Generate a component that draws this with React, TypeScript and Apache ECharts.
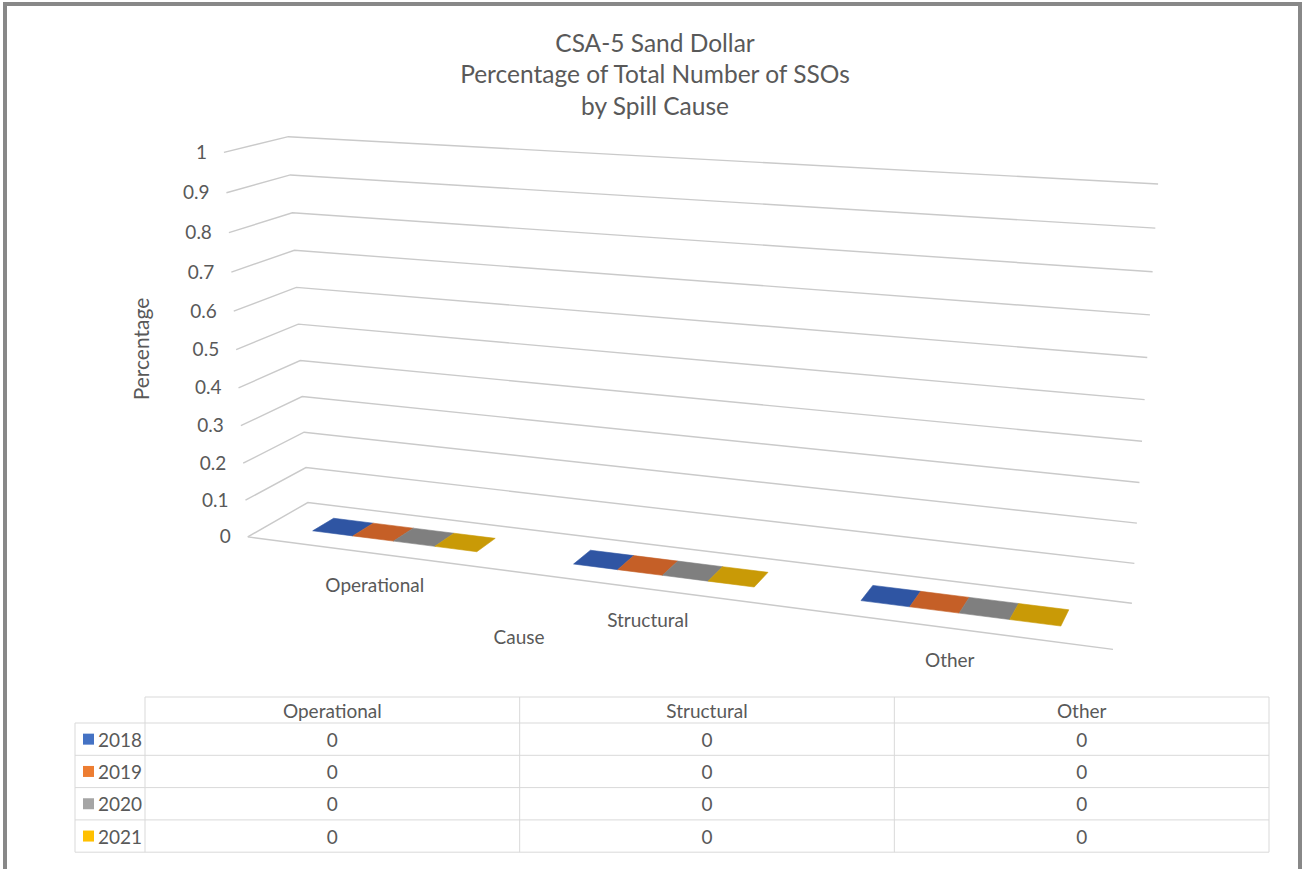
import React, { useEffect, useRef } from "react";
import * as echarts from "echarts";

// ---------------- data ----------------
const titleLines = ["CSA-5 Sand Dollar", "Percentage of Total Number of SSOs", "by Spill Cause"];
const categories = ["Operational", "Structural", "Other"];
const years = ["2018", "2019", "2020", "2021"];
const values2018 = [0, 0, 0];
const values2019 = [0, 0, 0];
const values2020 = [0, 0, 0];
const values2021 = [0, 0, 0];
const yearValues = [values2018, values2019, values2020, values2021];
const yTicks = [0, 0.1, 0.2, 0.3, 0.4, 0.5, 0.6, 0.7, 0.8, 0.9, 1];
const yAxisTitle = "Percentage";
const xAxisTitle = "Cause";

// ---------------- styles ----------------
const legendColors = ["#4472C4", "#ED7D31", "#A5A5A5", "#FFC000"];
const barTopColors = ["#2F55A3", "#C55F27", "#7F7F7F", "#C99A06"];
const barSideColors = ["#2A4C8E", "#B0541F", "#707070", "#B38904"];
const TEXT = "#595959";
const GRID = "#CACACA";
const TABLE_LINE = "#D9D9D9";
const FONT = "Lato, 'Open Sans', sans-serif";
const LABEL_SIZE = 19;
const TITLE_SIZE = 24.5;
const AXIS_TITLE_SIZE = 21;

// 3D box calibration: (u along categories, d depth front->back, v value) -> screen px
const BOX_REF: number[][] = [
  [0, 0, 0, 247.5, 536.5],
  [1, 0, 0, 1113.3, 649.3],
  [1, 1, 0, 1131.7, 603.3],
  [0, 1, 0, 307.5, 503],
  [0, 0, 1, 221.7, 153.3],
  [0, 1, 1, 290, 136],
  [1, 1, 1, 1158, 184],
  [0, 0, 0.5, 238.3, 349.3],
  [0, 1, 0.5, 297.3, 324.3],
];
const DEPTH_FRONT = 0.33;
const DEPTH_BACK = 0.69;
const GROUP_FRAC = 0.64;

function solveProjection(refs: number[][]) {
  const S = 1000;
  const n = 11;
  const M: number[][] = Array.from({ length: n }, () => new Array(n + 1).fill(0));
  const addRow = (row: number[], rhs: number) => {
    for (let i = 0; i < n; i++) {
      for (let j = 0; j < n; j++) M[i][j] += row[i] * row[j];
      M[i][n] += row[i] * rhs;
    }
  };
  for (const [u, d, v, X, Y] of refs) {
    const x = X / S, y = Y / S;
    addRow([u, d, v, 1, 0, 0, 0, 0, -x * u, -x * d, -x * v], x);
    addRow([0, 0, 0, 0, u, d, v, 1, -y * u, -y * d, -y * v], y);
  }
  for (let c = 0; c < n; c++) {
    let p = c;
    for (let r = c + 1; r < n; r++) if (Math.abs(M[r][c]) > Math.abs(M[p][c])) p = r;
    const tmp = M[c]; M[c] = M[p]; M[p] = tmp;
    for (let r = 0; r < n; r++) {
      if (r === c) continue;
      const f = M[r][c] / M[c][c];
      for (let k = c; k <= n; k++) M[r][k] -= f * M[c][k];
    }
  }
  const p = M.map((row, i) => row[n] / row[i]);
  return (u: number, d: number, v: number): number[] => {
    const w = p[8] * u + p[9] * d + p[10] * v + 1;
    return [
      ((p[0] * u + p[1] * d + p[2] * v + p[3]) / w) * S,
      ((p[4] * u + p[5] * d + p[6] * v + p[7]) / w) * S,
    ];
  };
}
const P = solveProjection(BOX_REF);

const fmtTick = (v: number) => String(Number(v.toFixed(2)));

function textStyle(text: string, size: number, align: string, vAlign: string, extra: any = {}) {
  return {
    text,
    fill: TEXT,
    fontSize: size,
    fontFamily: FONT,
    align,
    verticalAlign: vAlign,
    textAlign: align,
    textVerticalAlign: vAlign,
    ...extra,
  };
}

function normV(cs: any, yPix: number) {
  return (cs.y + cs.height - yPix) / cs.height;
}

function buildOption() {
  const gridSeries = {
    type: "custom",
    coordinateSystem: "cartesian2d",
    clip: false,
    silent: true,
    z: 1,
    data: yTicks.map((t) => [0, t]),
    renderItem: (params: any, api: any) => {
      const cs = params.coordSys;
      const val = api.value(1);
      const v = normV(cs, api.coord([0, val])[1]);
      const a = P(0, 0, v), b = P(0, 1, v), c = P(1, 1, v);
      const children: any[] = [
        { type: "polyline", shape: { points: [a, b, c] }, style: { stroke: GRID, lineWidth: 1.4, fill: null } },
        { type: "text", x: a[0] - 17, y: a[1] - 1, style: textStyle(fmtTick(val), LABEL_SIZE, "right", "middle") },
      ];
      if (Math.abs(v) < 1e-9) {
        const f = P(1, 0, v);
        children.push({
          type: "line",
          shape: { x1: a[0], y1: a[1], x2: f[0], y2: f[1] },
          style: { stroke: GRID, lineWidth: 1.4 },
        });
      }
      return { type: "group", children };
    },
  };

  const categorySeries = {
    type: "custom",
    coordinateSystem: "cartesian2d",
    clip: false,
    silent: true,
    z: 2,
    data: categories.map((_, i) => [i, 0]),
    renderItem: (params: any, api: any) => {
      const cs = params.coordSys;
      const pt = api.coord([api.value(0), 0]);
      const u = (pt[0] - cs.x) / cs.width;
      const f = P(u, 0, 0);
      return {
        type: "text",
        x: f[0],
        y: f[1] + 31,
        style: textStyle(categories[params.dataIndex], LABEL_SIZE, "center", "middle"),
      };
    },
  };

  const barSeries = years.map((yr, si) => ({
    type: "custom",
    name: yr,
    coordinateSystem: "cartesian2d",
    clip: false,
    silent: true,
    z: 3,
    data: yearValues[si].map((val, ci) => [ci, val]),
    renderItem: (params: any, api: any) => {
      const cs = params.coordSys;
      const base = api.coord([api.value(0), 0]);
      const top = api.coord([api.value(0), api.value(1)]);
      const band = api.size([1, 0])[0] / cs.width;
      const uc = (base[0] - cs.x) / cs.width;
      const v0 = normV(cs, base[1]);
      const v1 = normV(cs, top[1]);
      const bw = (band * GROUP_FRAC) / years.length;
      const u0 = uc - (band * GROUP_FRAC) / 2 + si * bw;
      const u1 = u0 + bw;
      const poly = (pts: number[][], fill: string) => ({
        type: "polygon",
        shape: { points: pts },
        style: { fill, stroke: fill, lineWidth: 0.6 },
      });
      const children: any[] = [];
      if (v1 > v0 + 1e-6) {
        children.push(poly([P(u0, DEPTH_FRONT, v0), P(u1, DEPTH_FRONT, v0), P(u1, DEPTH_FRONT, v1), P(u0, DEPTH_FRONT, v1)], legendColors[si]));
        children.push(poly([P(u1, DEPTH_FRONT, v0), P(u1, DEPTH_BACK, v0), P(u1, DEPTH_BACK, v1), P(u1, DEPTH_FRONT, v1)], barSideColors[si]));
      }
      children.push(poly([P(u0, DEPTH_FRONT, v1), P(u1, DEPTH_FRONT, v1), P(u1, DEPTH_BACK, v1), P(u0, DEPTH_BACK, v1)], barTopColors[si]));
      return { type: "group", children };
    },
  }));

  // ---- graphic: frame, titles, data table ----
  const graphics: any[] = [];
  graphics.push({
    type: "rect",
    shape: { x: 5, y: 4, width: 1295, height: 900 },
    style: { fill: null, stroke: "#888888", lineWidth: 4 },
    z: 0,
  });
  titleLines.forEach((t, i) => {
    graphics.push({ type: "text", x: 655, y: 42 + i * 31.5, style: textStyle(t, TITLE_SIZE, "center", "middle") });
  });
  graphics.push({ type: "text", x: 140, y: 349, rotation: Math.PI / 2, style: textStyle(yAxisTitle, AXIS_TITLE_SIZE, "center", "middle") });
  graphics.push({ type: "text", x: 519, y: 636, style: textStyle(xAxisTitle, LABEL_SIZE, "center", "middle") });

  const T = { x0: 75, x1: 145, x2: 1269, y0: 697, y1: 723, rowH: 32.3 };
  const colW = (T.x2 - T.x1) / categories.length;
  const yBottom = T.y1 + years.length * T.rowH;
  const hline = (x1: number, x2: number, y: number) => ({ type: "line", shape: { x1, y1: y, x2, y2: y }, style: { stroke: TABLE_LINE, lineWidth: 1 } });
  const vline = (x: number, y1: number, y2: number) => ({ type: "line", shape: { x1: x, y1, x2: x, y2 }, style: { stroke: TABLE_LINE, lineWidth: 1 } });
  graphics.push(hline(T.x1, T.x2, T.y0));
  for (let k = 0; k <= categories.length; k++) graphics.push(vline(T.x1 + k * colW, T.y0, yBottom));
  graphics.push(vline(T.x0, T.y1, yBottom));
  for (let r = 0; r <= years.length; r++) graphics.push(hline(T.x0, T.x2, T.y1 + r * T.rowH));
  categories.forEach((c, k) => {
    graphics.push({ type: "text", x: T.x1 + (k + 0.5) * colW, y: (T.y0 + T.y1) / 2, style: textStyle(c, LABEL_SIZE, "center", "middle") });
  });
  years.forEach((yr, r) => {
    const cy = T.y1 + (r + 0.5) * T.rowH;
    graphics.push({ type: "rect", shape: { x: 83, y: cy - 5.5, width: 11, height: 11 }, style: { fill: legendColors[r] } });
    graphics.push({ type: "text", x: 98, y: cy, style: textStyle(yr, LABEL_SIZE, "left", "middle") });
    categories.forEach((_, k) => {
      graphics.push({
        type: "text",
        x: T.x1 + (k + 0.5) * colW,
        y: cy,
        style: textStyle(String(yearValues[r][k]), LABEL_SIZE, "center", "middle"),
      });
    });
  });

  return {
    animation: false,
    backgroundColor: "#ffffff",
    grid: { left: 100, top: 100, width: 300, height: 300, show: false },
    xAxis: { type: "category", data: categories, show: false, boundaryGap: true },
    yAxis: { type: "value", min: 0, max: 1, interval: 0.1, show: false },
    graphic: graphics,
    series: [gridSeries, categorySeries, ...barSeries],
  };
}

export default function App() {
  const ref = useRef<HTMLDivElement>(null);
  useEffect(() => {
    if (!ref.current) return;
    const chart = echarts.init(ref.current, undefined, { renderer: "svg" });
    chart.setOption(buildOption() as any);
    return () => chart.dispose();
  }, []);
  return (
    <div
      ref={ref}
      style={{ position: "fixed", left: 0, top: 0, width: 1304, height: 869, background: "#ffffff" }}
    />
  );
}
